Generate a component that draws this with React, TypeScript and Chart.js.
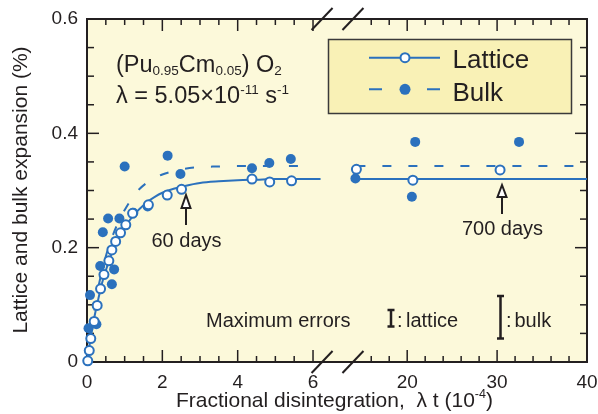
import React, { useEffect, useRef } from 'react';
import { Chart, registerables } from 'chart.js';

Chart.register(...registerables);

const FONT = '"Liberation Sans", Arial, Helvetica, sans-serif';
const INK = '#231f20';
const BLUE = '#2b71bd';
const PLOT_BG = '#fcf9da';
const LEGEND_BG = '#f9f1b6';

// ---- measured data (x in units of 1e-4, y in %) ----
const LATTICE_X = [0.02, 0.06, 0.10, 0.19, 0.27, 0.36, 0.45, 0.58, 0.66, 0.76, 0.89, 1.03, 1.21, 1.63, 2.13, 2.51, 4.38, 4.85, 5.43, 14.35, 20.63, 30.33];
const LATTICE_Y = [0.002, 0.02, 0.041, 0.071, 0.099, 0.128, 0.153, 0.177, 0.196, 0.211, 0.226, 0.240, 0.260, 0.275, 0.292, 0.302, 0.320, 0.315, 0.317, 0.337, 0.318, 0.336];

const BULK_X = [0.04, 0.25, 0.08, 0.35, 0.72, 0.66, 0.42, 0.56, 0.86, 1.23, 1.61, 1.0, 2.14, 2.48, 4.38, 4.84, 5.41, 14.24, 20.89, 20.52, 32.44];
const BULK_Y = [0.059, 0.066, 0.117, 0.168, 0.162, 0.136, 0.227, 0.251, 0.251, 0.261, 0.272, 0.342, 0.361, 0.329, 0.339, 0.348, 0.355, 0.321, 0.385, 0.289, 0.385];

// fitted curves
const LATTICE_FIT_LEFT_X = [0, 0.1, 0.2, 0.3, 0.4, 0.5, 0.6, 0.7, 0.8, 0.9, 1.0, 1.2, 1.4, 1.6, 1.8, 2.0, 2.3, 2.6, 3.0, 3.5, 4.0, 4.5, 5.0, 6.2];
const LATTICE_FIT_LEFT_Y = [0, 0.043, 0.08, 0.11, 0.138, 0.16, 0.18, 0.197, 0.211, 0.224, 0.235, 0.254, 0.268, 0.28, 0.289, 0.296, 0.303, 0.308, 0.313, 0.316, 0.318, 0.319, 0.32, 0.32];
const LATTICE_FIT_RIGHT_X = [14.3, 40];
const LATTICE_FIT_RIGHT_Y = [0.32, 0.32];

const BULK_FIT_LEFT_X = [0, 0.1, 0.2, 0.3, 0.4, 0.5, 0.6, 0.7, 0.8, 0.9, 1.0, 1.2, 1.4, 1.6, 1.8, 2.0, 2.3, 2.6, 3.0, 3.5, 4.0, 5.0, 5.8];
const BULK_FIT_LEFT_Y = [0, 0.05, 0.093, 0.13, 0.16, 0.185, 0.206, 0.224, 0.24, 0.254, 0.266, 0.287, 0.303, 0.314, 0.322, 0.328, 0.334, 0.338, 0.341, 0.342, 0.343, 0.343, 0.343];
const BULK_FIT_RIGHT_X = [14.35, 40];
const BULK_FIT_RIGHT_Y = [0.343, 0.343];

// ---- axes ----
const X_TICK_VALUES = [0, 2, 4, 6, 20, 30, 40];
const X_TICK_LABELS = ['0', '2', '4', '6', '20', '30', '40'];
const X_MAJOR_INNER = [2, 4, 6, 20, 30];
const X_MINOR = [0.5, 1, 1.5, 2.5, 3, 3.5, 4.5, 5, 5.5, 16, 18, 22, 24, 26, 28, 32, 34, 36, 38];
const Y_TICK_VALUES = [0, 0.2, 0.4, 0.6];
const Y_TICK_LABELS = ['0', '0.2', '0.4', '0.6'];
const Y_MAJOR_INNER = [0.2, 0.4];
const Y_MINOR = [0.05, 0.1, 0.15, 0.25, 0.3, 0.35, 0.45, 0.5, 0.55];

// broken x axis: left panel 0..6 linear, right panel 20..40 compressed
const D_MAX = 13.273;
const RIGHT_ORIGIN_D = 8.5;
const RIGHT_K = (D_MAX - RIGHT_ORIGIN_D) / 20;
const toD = (v: number) => (v < 10 ? v : RIGHT_ORIGIN_D + (v - 20) * RIGHT_K);
const BREAK_D = [6.24, 7.06];

const pts = (xs: number[], ys: number[]) => xs.map((x, i) => ({ x: toD(x), y: ys[i] }));

function drawRich(ctx: CanvasRenderingContext2D, x: number, y: number, parts: [string, number, number][]) {
  let cx = x;
  ctx.textAlign = 'left';
  ctx.textBaseline = 'alphabetic';
  for (const [t, size, dy] of parts) {
    ctx.font = `${size}px ${FONT}`;
    ctx.fillText(t, cx, y + dy);
    cx += ctx.measureText(t).width;
  }
}

const framePlugin = {
  id: 'frame',
  beforeDraw(chart: any) {
    const { ctx, chartArea: a } = chart;
    ctx.save();
    ctx.fillStyle = PLOT_BG;
    ctx.fillRect(a.left, a.top, a.right - a.left, a.bottom - a.top);
    ctx.restore();
  },
  beforeDatasetsDraw(chart: any) {
    const { ctx, chartArea: a, scales } = chart;
    const xs = scales.x, ys = scales.y;
    ctx.save();
    ctx.strokeStyle = INK;
    const line = (x1: number, y1: number, x2: number, y2: number) => {
      ctx.beginPath(); ctx.moveTo(x1, y1); ctx.lineTo(x2, y2); ctx.stroke();
    };
    ctx.lineWidth = 1.5;
    for (const v of X_MINOR) {
      const p = xs.getPixelForValue(toD(v));
      line(p, a.bottom, p, a.bottom - 6);
      line(p, a.top, p, a.top + 6);
    }
    for (const v of X_MAJOR_INNER) {
      const p = xs.getPixelForValue(toD(v));
      line(p, a.bottom, p, a.bottom - 12);
      line(p, a.top, p, a.top + 12);
    }
    for (const v of Y_MINOR) {
      const p = ys.getPixelForValue(v);
      line(a.left, p, a.left + 7, p);
      line(a.right, p, a.right - 7, p);
    }
    for (const v of Y_MAJOR_INNER) {
      const p = ys.getPixelForValue(v);
      line(a.left, p, a.left + 12, p);
      line(a.right, p, a.right - 12, p);
    }
    ctx.lineWidth = 2;
    ctx.strokeRect(a.left, a.top, a.right - a.left, a.bottom - a.top);
    // axis break marks
    for (const d of BREAK_D) {
      const cx = xs.getPixelForValue(d);
      for (const cy of [a.top, a.bottom]) line(cx - 10.5, cy + 11, cx + 10.5, cy - 11);
    }
    ctx.restore();
  },
  afterDatasetsDraw(chart: any) {
    const { ctx } = chart;
    ctx.save();
    ctx.fillStyle = INK;
    ctx.strokeStyle = INK;

    // composition and decay constant
    drawRich(ctx, 116, 71.5, [['(Pu', 23.5, 0], ['0.95', 13.5, 3], ['Cm', 23.5, 0], ['0.05', 13.5, 3], [') O', 23.5, 0], ['2', 13.5, 3]]);
    drawRich(ctx, 116, 103, [['λ = 5.05×10', 23.5, 0], ['-11', 13.5, -9], [' s', 23.5, 0], ['-1', 13.5, -9]]);

    // legend
    ctx.fillStyle = LEGEND_BG;
    ctx.fillRect(328.5, 39.5, 243, 74);
    ctx.lineWidth = 1.5;
    ctx.strokeStyle = '#3a3a3a';
    ctx.strokeRect(328.5, 39.5, 243, 74);
    ctx.strokeStyle = BLUE;
    ctx.lineWidth = 2;
    ctx.beginPath(); ctx.moveTo(369, 57.7); ctx.lineTo(440, 57.7); ctx.stroke();
    ctx.fillStyle = '#ffffff';
    ctx.beginPath(); ctx.arc(405, 57.7, 4.5, 0, Math.PI * 2); ctx.fill(); ctx.stroke();
    ctx.beginPath(); ctx.moveTo(369, 89.3); ctx.lineTo(382, 89.3); ctx.moveTo(427, 89.3); ctx.lineTo(440, 89.3); ctx.stroke();
    ctx.fillStyle = BLUE;
    ctx.beginPath(); ctx.arc(405, 89.3, 5.5, 0, Math.PI * 2); ctx.fill();
    ctx.fillStyle = INK;
    ctx.font = `26px ${FONT}`;
    ctx.textAlign = 'left';
    ctx.textBaseline = 'alphabetic';
    ctx.fillText('Lattice', 452.5, 68.3);
    ctx.fillText('Bulk', 452.5, 100.5);

    // arrows
    const arrow = (x: number, tip: number, base: number, end: number) => {
      ctx.strokeStyle = INK;
      ctx.lineWidth = 2;
      ctx.beginPath(); ctx.moveTo(x, base); ctx.lineTo(x, end); ctx.stroke();
      ctx.fillStyle = '#ffffff';
      ctx.beginPath();
      ctx.moveTo(x, tip); ctx.lineTo(x - 4.5, base); ctx.lineTo(x + 4.5, base); ctx.closePath();
      ctx.fill(); ctx.stroke();
    };
    arrow(186, 195, 208, 225);
    arrow(502, 185, 197, 214);
    ctx.fillStyle = INK;
    ctx.font = `20px ${FONT}`;
    ctx.textAlign = 'center';
    ctx.fillText('60 days', 186.5, 246.5);
    ctx.fillText('700 days', 502.5, 235);

    // maximum errors
    ctx.textAlign = 'left';
    ctx.fillText('Maximum errors', 206, 326.5);
    ctx.fillText(':', 397, 326.5);
    ctx.fillText('lattice', 406, 326.5);
    ctx.fillText(':', 506, 326.5);
    ctx.fillText('bulk', 514.5, 326.5);
    const ebar = (x: number, y1: number, y2: number) => {
      ctx.strokeStyle = INK;
      ctx.lineWidth = 2.5;
      ctx.beginPath();
      ctx.moveTo(x, y1); ctx.lineTo(x, y2);
      ctx.moveTo(x - 3.5, y1); ctx.lineTo(x + 3.5, y1);
      ctx.moveTo(x - 3.5, y2); ctx.lineTo(x + 3.5, y2);
      ctx.stroke();
    };
    ebar(391, 310, 326.5);
    ebar(500.5, 296, 338.5);

    // axis titles
    ctx.fillStyle = INK;
    drawRich(ctx, 176, 407, [['Fractional disintegration,  λ t (10', 21, 0], ['-4', 12.5, -9], [')', 21, 0]]);
    ctx.translate(26.5, 190);
    ctx.rotate(-Math.PI / 2);
    ctx.font = `21px ${FONT}`;
    ctx.textAlign = 'center';
    ctx.fillText('Lattice and bulk expansion (%)', 0, 0);
    ctx.restore();
  },
};

export default function App() {
  const ref = useRef<HTMLCanvasElement>(null);
  useEffect(() => {
    const canvas = ref.current;
    if (!canvas) return;
    const lineBase = { showLine: true, pointRadius: 0, borderColor: BLUE, borderWidth: 2, cubicInterpolationMode: 'monotone', clip: false };
    const chart = new Chart(canvas, {
      type: 'scatter',
      data: {
        datasets: [
          {
            label: 'Lattice',
            data: pts(LATTICE_X, LATTICE_Y),
            pointRadius: 4.5,
            pointBorderWidth: 2,
            pointBackgroundColor: '#ffffff',
            pointBorderColor: BLUE,
            clip: false,
          },
          {
            label: 'Bulk',
            data: pts(BULK_X, BULK_Y),
            pointRadius: 5,
            pointBorderWidth: 0,
            pointBackgroundColor: BLUE,
            pointBorderColor: BLUE,
            clip: false,
          },
          { label: 'Lattice fit', data: pts(LATTICE_FIT_LEFT_X, LATTICE_FIT_LEFT_Y), ...lineBase },
          { label: 'Lattice fit 2', data: pts(LATTICE_FIT_RIGHT_X, LATTICE_FIT_RIGHT_Y), ...lineBase },
          { label: 'Bulk fit', data: pts(BULK_FIT_LEFT_X, BULK_FIT_LEFT_Y), ...lineBase, borderDash: [9, 17] },
          { label: 'Bulk fit 2', data: pts(BULK_FIT_RIGHT_X, BULK_FIT_RIGHT_Y), ...lineBase, borderDash: [9, 17] },
        ] as any,
      },
      options: {
        animation: false,
        responsive: false,
        events: [],
        layout: { padding: { left: 0, right: 11, top: 19, bottom: 0 } },
        plugins: { legend: { display: false }, tooltip: { enabled: false } },
        scales: {
          x: {
            type: 'linear',
            min: 0,
            max: D_MAX,
            grid: { display: false },
            border: { display: false },
            afterBuildTicks: (s: any) => { s.ticks = X_TICK_VALUES.map((v) => ({ value: toD(v) })); },
            afterFit: (s: any) => { s.height = 52; s.paddingLeft = 0; s.paddingRight = 0; },
            ticks: {
              autoSkip: false,
              maxRotation: 0,
              padding: 1,
              color: INK,
              font: { family: FONT, size: 19 },
              callback: (_v: any, i: number) => X_TICK_LABELS[i],
            },
          },
          y: {
            type: 'linear',
            min: 0,
            max: 0.6,
            grid: { display: false },
            border: { display: false },
            afterBuildTicks: (s: any) => { s.ticks = Y_TICK_VALUES.map((v) => ({ value: v })); },
            afterFit: (s: any) => { s.width = 87; s.paddingTop = 0; s.paddingBottom = 0; },
            ticks: {
              padding: 1,
              color: INK,
              font: { family: FONT, size: 19 },
              callback: (_v: any, i: number) => Y_TICK_LABELS[i],
            },
          },
        },
      } as any,
      plugins: [framePlugin],
    });
    return () => chart.destroy();
  }, []);
  return (
    <canvas
      ref={ref}
      width={598}
      height={414}
      style={{ position: 'fixed', left: 0, top: 0, width: 598, height: 414, display: 'block' }}
    />
  );
}
